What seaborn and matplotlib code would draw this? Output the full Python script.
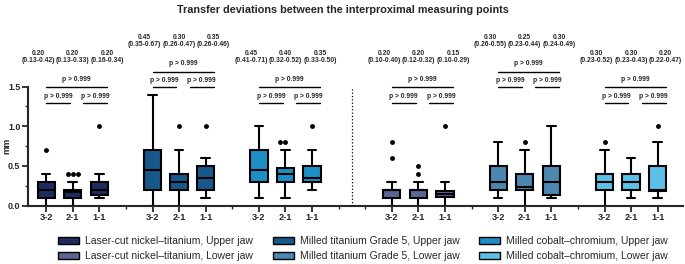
import matplotlib.pyplot as plt
import numpy as np
import pandas as pd
import seaborn as sns
from matplotlib.patches import Patch

# --- data ---
pairs = ["3-2", "2-1", "1-1"]
series = [
    "Laser-cut nickel–titanium, Upper jaw",
    "Milled titanium Grade 5, Upper jaw",
    "Milled cobalt–chromium, Upper jaw",
    "Laser-cut nickel–titanium, Lower jaw",
    "Milled titanium Grade 5, Lower jaw",
    "Milled cobalt–chromium, Lower jaw",
]
colors = ["#1e2b5e", "#16598a", "#1d8fc7", "#5a6696", "#4b87ae", "#5cc1e8"]

# deviations (mm) per measuring-point pair
niti_upper = {
    "3-2": [0.0, 0.05, 0.1, 0.1, 0.1, 0.15, 0.15, 0.2, 0.2, 0.2, 0.25, 0.3, 0.3, 0.3, 0.35, 0.4, 0.7],
    "2-1": [0.0, 0.05, 0.1, 0.1, 0.1, 0.1, 0.15, 0.15, 0.17, 0.2, 0.2, 0.2, 0.2, 0.3, 0.4, 0.4, 0.4],
    "1-1": [0.1, 0.1, 0.1, 0.12, 0.13, 0.15, 0.2, 0.2, 0.2, 0.2, 0.25, 0.3, 0.3, 0.3, 0.4, 0.4, 1.0],
}
ti_upper = {
    "3-2": [0.0, 0.1, 0.2, 0.2, 0.2, 0.3, 0.35, 0.4, 0.45, 0.5, 0.6, 0.7, 0.7, 0.8, 0.9, 1.1, 1.4],
    "2-1": [0.0, 0.1, 0.2, 0.2, 0.2, 0.25, 0.3, 0.3, 0.3, 0.3, 0.35, 0.35, 0.4, 0.4, 0.5, 0.7, 1.0],
    "1-1": [0.1, 0.15, 0.2, 0.2, 0.2, 0.25, 0.3, 0.3, 0.35, 0.4, 0.4, 0.45, 0.5, 0.5, 0.55, 0.6, 1.0],
}
cocr_upper = {
    "3-2": [0.1, 0.2, 0.3, 0.3, 0.3, 0.35, 0.4, 0.4, 0.45, 0.5, 0.6, 0.7, 0.7, 0.7, 0.8, 0.9, 1.0],
    "2-1": [0.1, 0.2, 0.3, 0.3, 0.3, 0.35, 0.4, 0.4, 0.4, 0.4, 0.45, 0.45, 0.47, 0.5, 0.7, 0.8, 0.8],
    "1-1": [0.2, 0.3, 0.3, 0.3, 0.3, 0.3, 0.33, 0.35, 0.35, 0.4, 0.4, 0.45, 0.5, 0.5, 0.6, 0.7, 1.0],
}
niti_lower = {
    "3-2": [0.0, 0.05, 0.1, 0.1, 0.1, 0.1, 0.15, 0.15, 0.2, 0.2, 0.2, 0.2, 0.2, 0.25, 0.3, 0.6, 0.8],
    "2-1": [0.0, 0.05, 0.1, 0.1, 0.1, 0.1, 0.15, 0.15, 0.2, 0.2, 0.2, 0.2, 0.2, 0.25, 0.3, 0.4, 0.5],
    "1-1": [0.0, 0.05, 0.1, 0.1, 0.11, 0.12, 0.13, 0.15, 0.15, 0.15, 0.17, 0.18, 0.19, 0.2, 0.25, 0.3, 1.0],
}
ti_lower = {
    "3-2": [0.1, 0.15, 0.2, 0.2, 0.2, 0.25, 0.25, 0.3, 0.3, 0.35, 0.4, 0.45, 0.5, 0.5, 0.6, 0.7, 0.8],
    "2-1": [0.0, 0.1, 0.2, 0.2, 0.2, 0.2, 0.2, 0.22, 0.23, 0.25, 0.3, 0.35, 0.4, 0.4, 0.5, 0.7, 0.8],
    "1-1": [0.1, 0.1, 0.1, 0.12, 0.13, 0.2, 0.2, 0.25, 0.3, 0.35, 0.4, 0.45, 0.5, 0.6, 0.7, 0.8, 1.0],
}
cocr_lower = {
    "3-2": [0.0, 0.1, 0.2, 0.2, 0.2, 0.25, 0.3, 0.3, 0.3, 0.3, 0.35, 0.4, 0.4, 0.5, 0.6, 0.7, 0.8],
    "2-1": [0.1, 0.15, 0.2, 0.2, 0.2, 0.25, 0.3, 0.3, 0.3, 0.3, 0.35, 0.4, 0.4, 0.45, 0.5, 0.55, 0.6],
    "1-1": [0.1, 0.1, 0.15, 0.18, 0.18, 0.2, 0.2, 0.2, 0.2, 0.3, 0.4, 0.45, 0.5, 0.6, 0.7, 0.8, 1.0],
}
values = [niti_upper, ti_upper, cocr_upper, niti_lower, ti_lower, cocr_lower]

# median (95% CI) labels printed above each box
median_labels = [
    ["0.20", "0.20", "0.20"], ["0.45", "0.30", "0.35"], ["0.45", "0.40", "0.35"],
    ["0.20", "0.20", "0.15"], ["0.30", "0.25", "0.30"], ["0.30", "0.30", "0.20"],
]
ci_labels = [
    ["(0.13-0.42)", "(0.13-0.33)", "(0.16-0.34)"],
    ["(0.35-0.67)", "(0.26-0.47)", "(0.26-0.46)"],
    ["(0.41-0.71)", "(0.32-0.52)", "(0.33-0.50)"],
    ["(0.10-0.40)", "(0.12-0.32)", "(0.10-0.29)"],
    ["(0.26-0.55)", "(0.23-0.44)", "(0.24-0.49)"],
    ["(0.23-0.52)", "(0.23-0.43)", "(0.22-0.47)"],
]
p_label = "p > 0.999"

# x layout: first box position of each group
group_start = [0, 4, 8, 13, 17, 21]

sns.set_theme(style="ticks")
plt.rcParams["font.family"] = ["Liberation Sans", "DejaVu Sans"]

rows = []
for s, name in enumerate(series):
    for j, pair in enumerate(pairs):
        for v in values[s][pair]:
            rows.append({"series": name, "pair": pair, "pos": group_start[s] + j, "value": v})
df = pd.DataFrame(rows)

# Tukey outliers, drawn separately as a swarm
fl_rows = []
for (name, pos), g in df.groupby(["series", "pos"]):
    v = g["value"].to_numpy()
    q1, q3 = np.percentile(v, [25, 75])
    iqr = q3 - q1
    for x in v[(v > q3 + 1.5 * iqr) | (v < q1 - 1.5 * iqr)]:
        fl_rows.append({"pos": pos, "value": x})
fl_df = pd.DataFrame(fl_rows)

fig = plt.figure(figsize=(6.85, 2.64), dpi=100)
ax = fig.add_axes([0.041, 0.221, 0.956, 0.451])

sns.boxplot(
    data=df, x="pos", y="value", hue="series", hue_order=series, palette=colors,
    native_scale=True, dodge=False, width=0.65, saturation=1, linewidth=1.5,
    linecolor="black", showfliers=False, whis=1.5, legend=False, ax=ax,
)
sns.swarmplot(data=fl_df, x="pos", y="value", native_scale=True, color="black", size=3.5, ax=ax)

ax.axvline(11.5, ymin=0, ymax=1, color="black", ls=":", lw=0.9)

ax.set_xlim(-0.68, 23.95)
ax.set_ylim(0, 1.5)
ticks = [g + j for g in group_start for j in range(3)]
ax.set_xticks(ticks)
ax.set_xticklabels(pairs * len(group_start), fontsize=6.6, fontweight="bold")
ax.set_xticks([3, 7, 11, 12, 16, 20], minor=True)
ax.set_yticks([0, 0.5, 1.0, 1.5])
ax.set_yticklabels(["0.0", "0.5", "1.0", "1.5"], fontsize=6.4, fontweight="bold")
ax.set_yticks([0.25, 0.75, 1.25], minor=True)
ax.tick_params(axis="both", which="major", length=4, width=1.3, pad=1.5)
ax.tick_params(axis="both", which="minor", length=2, width=1.0)
ax.set_xlabel("")
ax.set_ylabel("mm", fontsize=6.6, fontweight="bold")
ax.yaxis.set_label_coords(-0.025, 0.5)
sns.despine(ax=ax)
for sp in ["left", "bottom"]:
    ax.spines[sp].set_linewidth(1.5)

# median / CI text and comparison brackets
fs = 4.9
for s in range(len(series)):
    gs = group_start[s]
    off = 0.2 if s in (1, 4) else 0.0
    for j in range(3):
        xt = gs + 1 + (j - 1) * 1.3
        ax.text(xt, 1.92 + off, median_labels[s][j], ha="center", va="center",
                fontsize=fs, fontweight="bold", clip_on=False)
        ax.text(xt, 1.83 + off, ci_labels[s][j], ha="center", va="center",
                fontsize=fs, fontweight="bold", clip_on=False)
    ax.text(gs + 1.15, 1.585 + off, p_label, ha="center", va="center",
            fontsize=fs, fontweight="bold", clip_on=False)
    ax.plot([gs, gs + 2.3], [1.49 + off] * 2, color="black", lw=1.0, clip_on=False)
    for x0, x1 in [(gs, gs + 0.9), (gs + 1.4, gs + 2.3)]:
        ax.text((x0 + x1) / 2, 1.38 + off, p_label, ha="center", va="center",
                fontsize=fs, fontweight="bold", clip_on=False)
        ax.plot([x0, x1], [1.29 + off] * 2, color="black", lw=1.0, clip_on=False)

fig.text(0.5, 0.962, "Transfer deviations between the interproximal measuring points",
         ha="center", va="center", fontsize=7.8, fontweight="bold")

order = [0, 3, 1, 4, 2, 5]
handles = [Patch(facecolor=colors[i], edgecolor="black", linewidth=1.0, label=series[i]) for i in order]
fig.legend(handles=handles, loc="center", bbox_to_anchor=(0.53, 0.058), ncol=3, frameon=False,
           fontsize=7.5, handlelength=2.0, handleheight=0.7, handletextpad=0.6,
           columnspacing=1.9, labelspacing=0.5, borderpad=0)

fig.savefig("out.png", dpi=100)
